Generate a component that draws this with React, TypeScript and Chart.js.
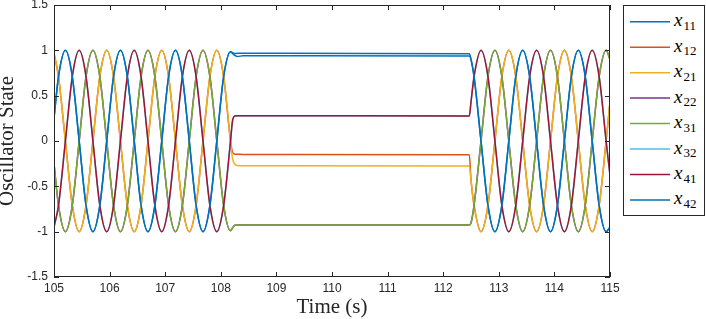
import { useEffect, useRef } from 'react';
import { Chart, registerables } from 'chart.js';

Chart.register(...registerables);

// Shared sample times (s): eighth-period points of the
// oscillation, the quench transition near 108.2 s and the restart near 112.47 s.
const time = [
  105.0, 105.081, 105.205, 105.329, 105.453, 105.576, 105.7, 105.824, 105.948,
  106.071, 106.195, 106.319, 106.443, 106.566, 106.69, 106.814, 106.938,
  107.061, 107.185, 107.309, 107.433, 107.556, 107.68, 107.804, 107.928,
  108.051, 108.175,
  108.21, 108.25, 108.3, 108.4, 112.47,
  112.5, 112.555, 112.68, 112.805, 112.93, 113.055, 113.18, 113.305, 113.43,
  113.555, 113.68, 113.805, 113.93, 114.055, 114.18, 114.305, 114.43, 114.555,
  114.68, 114.805, 114.93, 115.0,
];

const x11Values = [
  0.25, 0.71, 1, 0.71, 0, -0.71, -1, -0.71, 0, 0.71, 1, 0.71, 0, -0.71, -1, -0.71, 0,
  0.71, 1, 0.71, 0, -0.71, -1, -0.71, 0, 0.71, 0.985,
  0.975, 0.965, 0.967, 0.967, 0.962,
  0.9, 0.71, 0, -0.71, -1, -0.71, 0, 0.71, 1, 0.71, 0, -0.71, -1, -0.71, 0, 0.71, 1,
  0.71, 0, -0.71, -1, -0.95,
];

const x12Values = [
  0.97, 0.71, 0, -0.71, -1, -0.71, 0, 0.71, 1, 0.71, 0, -0.71, -1, -0.71, 0, 0.71, 1,
  0.71, 0, -0.71, -1, -0.71, 0, 0.71, 1, 0.71, 0,
  -0.12, -0.145, -0.147, -0.148, -0.152,
  -0.43, -0.71, -1, -0.71, 0, 0.71, 1, 0.71, 0, -0.71, -1, -0.71, 0, 0.71, 1, 0.71, 0,
  -0.71, -1, -0.71, 0, 0.43,
];

const x21Values = [
  0.97, 0.71, 0, -0.71, -1, -0.71, 0, 0.71, 1, 0.71, 0, -0.71, -1, -0.71, 0, 0.71, 1,
  0.71, 0, -0.71, -1, -0.71, 0, 0.71, 1, 0.71, 0,
  -0.19, -0.255, -0.27, -0.272, -0.276,
  -0.43, -0.71, -1, -0.71, 0, 0.71, 1, 0.71, 0, -0.71, -1, -0.71, 0, 0.71, 1, 0.71, 0,
  -0.71, -1, -0.71, 0, 0.43,
];

// x22 lies underneath x31 in the reference
const x22Values = [
  -0.25, -0.71, -1, -0.71, 0, 0.71, 1, 0.71, 0, -0.71, -1, -0.71, 0, 0.71, 1, 0.71, 0,
  -0.71, -1, -0.71, 0, 0.71, 1, 0.71, 0, -0.71, -0.99,
  -0.96, -0.93, -0.926, -0.926, -0.926,
  -0.905, -0.71, 0, 0.71, 1, 0.71, 0, -0.71, -1, -0.71, 0, 0.71, 1, 0.71, 0, -0.71, -1,
  -0.71, 0, 0.71, 1, 0.9,
];

const x31Values = [
  -0.25, -0.71, -1, -0.71, 0, 0.71, 1, 0.71, 0, -0.71, -1, -0.71, 0, 0.71, 1, 0.71, 0,
  -0.71, -1, -0.71, 0, 0.71, 1, 0.71, 0, -0.71, -0.99,
  -0.96, -0.93, -0.926, -0.926, -0.926,
  -0.905, -0.71, 0, 0.71, 1, 0.71, 0, -0.71, -1, -0.71, 0, 0.71, 1, 0.71, 0, -0.71, -1,
  -0.71, 0, 0.71, 1, 0.9,
];

// x32 lies underneath x41 in the reference
const x32Values = [
  -0.95, -0.71, 0, 0.71, 1, 0.71, 0, -0.71, -1, -0.71, 0, 0.71, 1, 0.71, 0, -0.71, -1,
  -0.71, 0, 0.71, 1, 0.71, 0, -0.71, -1, -0.71, 0,
  0.22, 0.275, 0.279, 0.279, 0.277,
  0.43, 0.71, 1, 0.71, 0, -0.71, -1, -0.71, 0, 0.71, 1, 0.71, 0, -0.71, -1, -0.71, 0,
  0.71, 1, 0.71, 0, -0.38,
];

const x41Values = [
  -0.95, -0.71, 0, 0.71, 1, 0.71, 0, -0.71, -1, -0.71, 0, 0.71, 1, 0.71, 0, -0.71, -1,
  -0.71, 0, 0.71, 1, 0.71, 0, -0.71, -1, -0.71, 0,
  0.22, 0.275, 0.279, 0.279, 0.277,
  0.43, 0.71, 1, 0.71, 0, -0.71, -1, -0.71, 0, 0.71, 1, 0.71, 0, -0.71, -1, -0.71, 0,
  0.71, 1, 0.71, 0, -0.38,
];

const x42Values = [
  0.25, 0.71, 1, 0.71, 0, -0.71, -1, -0.71, 0, 0.71, 1, 0.71, 0, -0.71, -1, -0.71, 0,
  0.71, 1, 0.71, 0, -0.71, -1, -0.71, 0, 0.71, 0.985,
  0.965, 0.945, 0.932, 0.94, 0.938,
  0.9, 0.71, 0, -0.71, -1, -0.71, 0, 0.71, 1, 0.71, 0, -0.71, -1, -0.71, 0, 0.71, 1,
  0.71, 0, -0.71, -1, -0.95,
];

const seriesValues = [x11Values, x12Values, x21Values, x22Values, x31Values, x32Values, x41Values, x42Values];
const seriesSubscripts = ['11', '12', '21', '22', '31', '32', '41', '42'];
const seriesColors = ['#0072BD', '#D95319', '#EDB120', '#7E2F8E', '#77AC30', '#4DBEEE', '#A2142F', '#0072BD'];

const xTicks = [105, 106, 107, 108, 109, 110, 111, 112, 113, 114, 115];
const xTickLabels = ['105', '106', '107', '108', '109', '110', '111', '112', '113', '114', '115'];
const yTicks = [-1.5, -1, -0.5, 0, 0.5, 1, 1.5];
const yTickLabels = ['-1.5', '-1', '-0.5', '0', '0.5', '1', '1.5'];

const AXIS_COLOR = '#262626';
const SANS = "'Liberation Sans', Arial, Helvetica, sans-serif";
const SERIF = "'Liberation Serif', 'Times New Roman', serif";

const axesBoxPlugin = {
  id: 'axesBox',
  afterDraw(chart: any) {
    const { ctx, chartArea } = chart;
    const { left, top, right, bottom } = chartArea;
    const xs = chart.scales.x;
    const ys = chart.scales.y;
    const tick = 5;
    ctx.save();
    ctx.strokeStyle = AXIS_COLOR;
    ctx.lineWidth = 1;
    ctx.beginPath();
    xs.ticks.forEach((t: any) => {
      const px = Math.round(xs.getPixelForValue(t.value)) + 0.5;
      ctx.moveTo(px, bottom);
      ctx.lineTo(px, bottom - tick);
      ctx.moveTo(px, top);
      ctx.lineTo(px, top + tick);
    });
    ys.ticks.forEach((t: any) => {
      const py = Math.round(ys.getPixelForValue(t.value)) + 0.5;
      ctx.moveTo(left, py);
      ctx.lineTo(left + tick, py);
      ctx.moveTo(right, py);
      ctx.lineTo(right - tick, py);
    });
    ctx.stroke();
    ctx.strokeRect(left + 0.5, top + 0.5, right - left - 1, bottom - top - 1);
    ctx.restore();
  },
};

export default function App() {
  const canvasRef = useRef<HTMLCanvasElement | null>(null);

  useEffect(() => {
    const canvas = canvasRef.current;
    if (!canvas) return;
    const datasets = seriesValues.map((vals, i) => ({
      label: 'x' + seriesSubscripts[i],
      data: time.map((t, k) => ({ x: t, y: vals[k] })),
      borderColor: seriesColors[i],
      backgroundColor: seriesColors[i],
      borderWidth: 1.5,
      pointRadius: 0,
      fill: false,
      cubicInterpolationMode: 'monotone' as const,
      order: -i,
    }));
    const chart = new Chart(canvas, {
      type: 'line',
      data: { datasets },
      plugins: [axesBoxPlugin],
      options: {
        animation: false,
        responsive: false,
        devicePixelRatio: 1,
        events: [],
        layout: { padding: { top: 5, right: 96, bottom: 0, left: 0 } },
        plugins: { legend: { display: false }, tooltip: { enabled: false } },
        scales: {
          x: {
            type: 'linear',
            min: 105,
            max: 115,
            afterBuildTicks: (s: any) => {
              s.ticks = xTicks.map((v) => ({ value: v }));
            },
            afterFit: (s: any) => {
              s.height = 42;
              s.paddingLeft = 0;
              s.paddingRight = 0;
            },
            grid: { display: false, drawTicks: false, tickLength: 0 },
            border: { display: false },
            ticks: {
              autoSkip: false,
              maxRotation: 0,
              padding: 4,
              color: AXIS_COLOR,
              font: { family: SANS, size: 12 },
              callback: (v: any) => xTickLabels[xTicks.indexOf(Number(v))] ?? '',
            },
            title: {
              display: true,
              text: 'Time (s)',
              color: AXIS_COLOR,
              font: { family: SERIF, size: 21, lineHeight: 1.1 },
              padding: { top: 0, bottom: 0 },
            },
          },
          y: {
            type: 'linear',
            min: -1.5,
            max: 1.5,
            afterBuildTicks: (s: any) => {
              s.ticks = yTicks.map((v) => ({ value: v }));
            },
            afterFit: (s: any) => {
              s.width = 54;
              s.paddingTop = 0;
              s.paddingBottom = 0;
            },
            grid: { display: false, drawTicks: false, tickLength: 0 },
            border: { display: false },
            ticks: {
              autoSkip: false,
              padding: 6,
              color: AXIS_COLOR,
              font: { family: SANS, size: 12 },
              callback: (v: any) => yTickLabels[yTicks.indexOf(Number(v))] ?? '',
            },
            title: {
              display: true,
              text: 'Oscillator State',
              color: AXIS_COLOR,
              font: { family: SERIF, size: 21, lineHeight: 0.75 },
              padding: { top: 0, bottom: 0 },
            },
          },
        },
      },
    });
    return () => chart.destroy();
  }, []);

  const rowStart = 15.7;
  const rowStep = 25.47;

  return (
    <div style={{ position: 'fixed', left: 0, top: 0, width: 706, height: 319, background: '#fff' }}>
      <canvas ref={canvasRef} width={706} height={319} style={{ display: 'block' }} />
      <div
        style={{
          position: 'absolute',
          left: 623,
          top: 5,
          width: 82,
          height: 211,
          boxSizing: 'border-box',
          border: '1px solid ' + AXIS_COLOR,
          background: '#fff',
        }}
      >
        <svg
          width={80}
          height={209}
          style={{ position: 'absolute', left: 0, top: 0, overflow: 'visible' }}
        >
          {seriesSubscripts.map((sub, k) => {
            const cy = rowStart + k * rowStep;
            return (
              <line
                key={sub}
                x1={6}
                x2={46}
                y1={cy}
                y2={cy}
                stroke={seriesColors[k]}
                strokeWidth={1.5}
              />
            );
          })}
        </svg>
        {seriesSubscripts.map((sub, k) => {
          const cy = rowStart + k * rowStep;
          return (
            <span
              key={sub}
              style={{
                position: 'absolute',
                left: 50,
                top: cy - 11.5,
                fontFamily: SERIF,
                fontSize: 19,
                lineHeight: '19px',
                color: '#000',
                whiteSpace: 'nowrap',
              }}
            >
              <i>x</i>
              <span style={{ fontSize: 13, verticalAlign: '-3.5px', marginLeft: 1 }}>{sub}</span>
            </span>
          );
        })}
      </div>
    </div>
  );
}
